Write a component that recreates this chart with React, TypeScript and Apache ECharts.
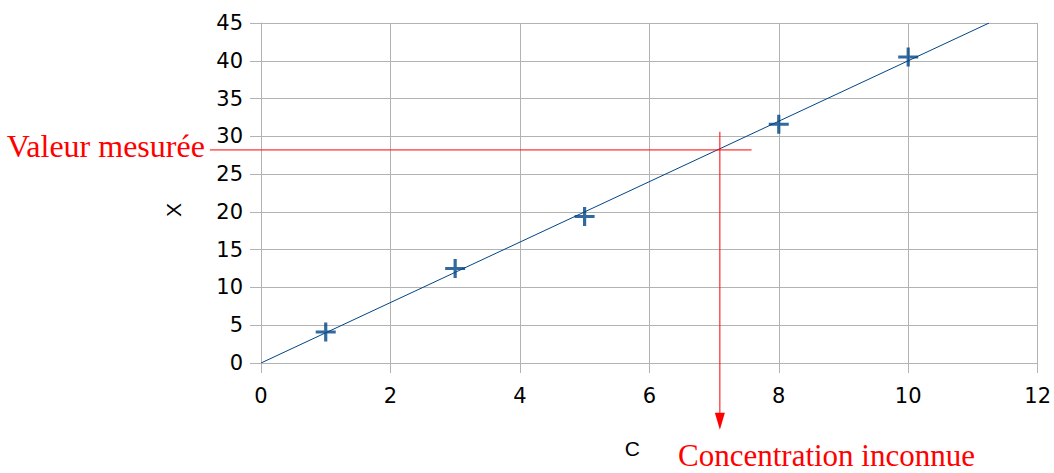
import React, { useEffect, useRef } from "react";
import * as echarts from "echarts";

// Calibration points (concentration C, measured X)
const concentrations = [1, 3, 5, 8, 10];
const measures = [4.1, 12.5, 19.4, 31.6, 40.5];
// Regression line endpoints
const fitLine: [number, number][] = [
  [0, 0],
  [11.25, 45],
];
const measuredValue = 28.2;
const measuredLineX = [-0.79, 7.58];
const unknownConc = 7.09;
const unknownLineY = [30.6, -8.85];

const xTicks = { min: 0, max: 12, interval: 2 };
const yTicks = { min: 0, max: 45, interval: 5 };

const RED = "#ff0000";
const BLUE = "#004586";
const GRID = "#b3b3b3";
const SANS = "'DejaVu Sans', 'Liberation Sans', sans-serif";
const SERIF = "'Liberation Serif', 'DejaVu Serif', serif";

const PLUS =
  "path://M8.4,0H11.6V8.4H20V11.6H11.6V20H8.4V11.6H0V8.4H8.4Z";

export default function App() {
  const ref = useRef<HTMLDivElement>(null);
  useEffect(() => {
    if (!ref.current) return;
    const chart = echarts.init(ref.current, undefined, { renderer: "svg" });
    chart.setOption({
      animation: false,
      backgroundColor: "#ffffff",
      grid: { left: 261, top: 23, width: 777, height: 340 },
      xAxis: {
        type: "value",
        min: xTicks.min,
        max: xTicks.max,
        interval: xTicks.interval,
        name: "C",
        nameLocation: "middle",
        nameGap: 75,
        nameTextStyle: {
          fontFamily: "'Liberation Sans', Arial, sans-serif",
          fontSize: 21,
          color: "#000",
          padding: [0, 34, 0, 0],
        },
        axisLine: { show: true, lineStyle: { color: GRID, width: 1 } },
        axisTick: { show: true, length: 10, lineStyle: { color: GRID } },
        axisLabel: {
          color: "#000",
          fontFamily: SANS,
          fontSize: 21,
          margin: 22,
        },
        splitLine: { show: true, lineStyle: { color: GRID, width: 1 } },
      },
      yAxis: {
        type: "value",
        min: yTicks.min,
        max: yTicks.max,
        interval: yTicks.interval,
        name: "X",
        nameLocation: "middle",
        nameGap: 77,
        nameRotate: 90,
        nameTextStyle: {
          fontFamily: "'Liberation Sans', Arial, sans-serif",
          fontSize: 21,
          color: "#000",
          padding: [0, 34, 0, 0],
        },
        axisLine: { show: true, lineStyle: { color: GRID, width: 1 } },
        axisTick: { show: true, length: 11, lineStyle: { color: GRID } },
        axisLabel: {
          color: "#000",
          fontFamily: SANS,
          fontSize: 21,
          margin: 18,
        },
        splitLine: { show: true, lineStyle: { color: GRID, width: 1 } },
      },
      series: [
        {
          type: "line",
          data: fitLine,
          symbol: "none",
          lineStyle: { color: BLUE, width: 1 },
          z: 2,
        },
        {
          type: "custom",
          clip: false,
          data: [[0]],
          z: 3,
          renderItem: (_params: any, api: any) => {
            const a = api.coord([measuredLineX[0], measuredValue]);
            const b = api.coord([measuredLineX[1], measuredValue]);
            const c = api.coord([unknownConc, unknownLineY[0]]);
            const d = api.coord([unknownConc, unknownLineY[1]]);
            const ah = 17;
            const aw = 5;
            return {
              type: "group",
              children: [
                {
                  type: "line",
                  shape: { x1: a[0], y1: a[1], x2: b[0], y2: b[1] },
                  style: { stroke: RED, lineWidth: 1 },
                },
                {
                  type: "text",
                  style: {
                    text: "Valeur mesurée",
                    x: a[0] - 5,
                    y: a[1] - 4,
                    align: "right",
                    verticalAlign: "middle",
                    fill: RED,
                    font: `32px ${SERIF}`,
                  },
                },
                {
                  type: "line",
                  shape: { x1: c[0], y1: c[1], x2: d[0], y2: d[1] - ah + 2 },
                  style: { stroke: RED, lineWidth: 1 },
                },
                {
                  type: "polygon",
                  shape: {
                    points: [
                      [d[0] - aw, d[1] - ah],
                      [d[0] + aw, d[1] - ah],
                      [d[0], d[1]],
                    ],
                  },
                  style: { fill: RED },
                },
              ],
            };
          },
        },
        {
          type: "scatter",
          data: concentrations.map((c, i) => [c, measures[i]]),
          symbol: PLUS,
          symbolSize: [20, 19],
          itemStyle: { color: BLUE },
          z: 4,
        },
      ],
      graphic: [
        {
          type: "text",
          left: 678,
          top: 440,
          style: {
            text: "Concentration inconnue",
            fill: RED,
            font: `31px ${SERIF}`,
          },
        },
      ],
    });
    return () => chart.dispose();
  }, []);
  return (
    <div
      ref={ref}
      style={{ position: "fixed", left: 0, top: 0, width: 1054, height: 473 }}
    />
  );
}
